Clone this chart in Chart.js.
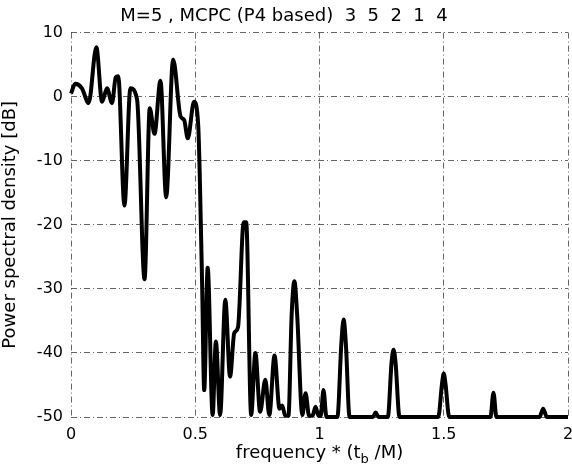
<!DOCTYPE html>
<html>
<head>
<meta charset="utf-8">
<script src="https://cdn.jsdelivr.net/npm/chart.js@4"></script>
<style>
  html, body { margin: 0; padding: 0; background: #fff; }
  #wrap { width: 572px; height: 464px; }
</style>
</head>
<body>
<div id="wrap"><canvas id="myChart" width="572" height="464"></canvas></div>
<script>
// data
const freq = [
  0.000, 0.017, 0.044, 0.071, 0.102, 0.125, 0.145, 0.165, 0.180, 0.190,
  0.215, 0.239, 0.266, 0.296, 0.317, 0.336, 0.360, 0.383, 0.411, 0.441,
  0.455, 0.470, 0.495, 0.512, 0.518, 0.528, 0.536, 0.550, 0.570, 0.583,
  0.600, 0.621, 0.640, 0.657, 0.672, 0.695, 0.705, 0.725, 0.742, 0.761,
  0.782, 0.798, 0.819, 0.839, 0.850, 0.862, 0.875, 0.888, 0.899, 0.910,
  0.931, 0.944, 0.958, 0.972, 0.984, 0.996, 1.005, 1.016, 1.028, 1.072,
  1.088, 1.097, 1.106, 1.121, 1.215, 1.226, 1.237, 1.275, 1.290, 1.298,
  1.306, 1.322, 1.478, 1.493, 1.500, 1.507, 1.522, 1.688, 1.700, 1.712,
  1.885, 1.900, 1.915, 2.000
];
const psd = [
  0.5, 2.0, 1.3, -1.0, 7.7, -0.8, 1.3, -1.0, 3.0, 3.2,
  -17.0, 1.3, -0.5, -28.5, -1.8, -5.8, 2.5, -15.7, 5.8, -3.1,
  -3.6, -6.5, -0.8, -4.5, -12.0, -30.0, -45.8, -26.7, -49.7, -38.2,
  -49.7, -31.7, -43.7, -36.9, -36.0, -19.6, -19.6, -49.7, -40.0, -49.2,
  -44.2, -49.7, -40.4, -48.7, -48.2, -49.8, -49.8, -34.0, -28.8, -34.0,
  -49.7, -46.3, -49.8, -49.8, -48.4, -49.8, -49.8, -45.8, -50, -50,
  -38.5, -34.8, -38.5, -50, -50, -49.3, -50, -50, -41.5, -39.5,
  -41.5, -50, -50, -44.8, -43.2, -44.8, -50, -50, -46.2, -50,
  -50, -48.7, -50, -50
];
const xTicks = [0, 0.5, 1, 1.5, 2];
const yTicks = [-50, -40, -30, -20, -10, 0, 10];
const titleText = 'M=5 , MCPC (P4 based)  3  5  2  1  4';
const yTitle = 'Power spectral density [dB]';

const FONT = 'DejaVu Sans';
const gridStyle = {
  color: 'rgba(0,0,0,0.6)',
  lineWidth: 1,
  drawTicks: false
};

// x axis title with a subscript b, drawn as text on the canvas
const xTitlePlugin = {
  id: 'xTitle',
  afterDraw(chart) {
    const ctx = chart.ctx;
    const area = chart.chartArea;
    const parts = [
      { t: 'frequency * (t', size: 18, dy: 0 },
      { t: 'b', size: 13, dy: 5 },
      { t: ' /M)', size: 18, dy: 0 }
    ];
    ctx.save();
    ctx.fillStyle = '#000';
    ctx.textBaseline = 'alphabetic';
    let w = 0;
    parts.forEach(p => {
      ctx.font = p.size + 'px "' + FONT + '"';
      p.w = ctx.measureText(p.t).width;
      w += p.w;
    });
    let x = (area.left + area.right) / 2 - w / 2;
    const base = 458;
    parts.forEach(p => {
      ctx.font = p.size + 'px "' + FONT + '"';
      ctx.fillText(p.t, x, base + p.dy);
      x += p.w;
    });
    ctx.restore();
  }
};

const data = {
  datasets: [{
    data: freq.map((f, i) => ({ x: f, y: psd[i] })),
    borderColor: '#000',
    borderWidth: 4,
    pointRadius: 0,
    cubicInterpolationMode: 'monotone',
    clip: 6
  }]
};

const config = {
  type: 'line',
  data,
  options: {
    responsive: false,
    animation: false,
    layout: { padding: { left: 0, right: 4, top: 0, bottom: 0 } },
    plugins: {
      legend: { display: false },
      tooltip: { enabled: false },
      title: {
        display: true,
        text: titleText,
        color: '#000',
        font: { family: FONT, size: 18, weight: 'normal' },
        padding: { top: 6, bottom: 5 }
      }
    },
    scales: {
      x: {
        type: 'linear',
        min: 0,
        max: 2,
        afterBuildTicks: s => { s.ticks = xTicks.map(v => ({ value: v })); },
        afterFit: s => { s.height = 47; s.paddingRight = 0; s.paddingLeft = 0; },
        ticks: {
          color: '#000',
          font: { family: FONT, size: 16 },
          padding: 8,
          maxRotation: 0,
          callback: v => String(v)
        },
        grid: gridStyle,
        border: { display: false, dash: [6, 3, 1, 3] }
      },
      y: {
        min: -50,
        max: 10,
        afterBuildTicks: s => { s.ticks = yTicks.map(v => ({ value: v })); },
        afterFit: s => { s.width = 71; },
        ticks: {
          color: '#000',
          font: { family: FONT, size: 16 },
          padding: 8
        },
        grid: gridStyle,
        border: { display: false, dash: [6, 3, 1, 3] },
        title: {
          display: true,
          text: yTitle,
          color: '#000',
          font: { family: FONT, size: 18 },
          padding: { top: 0, bottom: 2 }
        }
      }
    }
  },
  plugins: [xTitlePlugin]
};

const myChart = new Chart(document.getElementById('myChart'), config);
</script>
</body>
</html>
